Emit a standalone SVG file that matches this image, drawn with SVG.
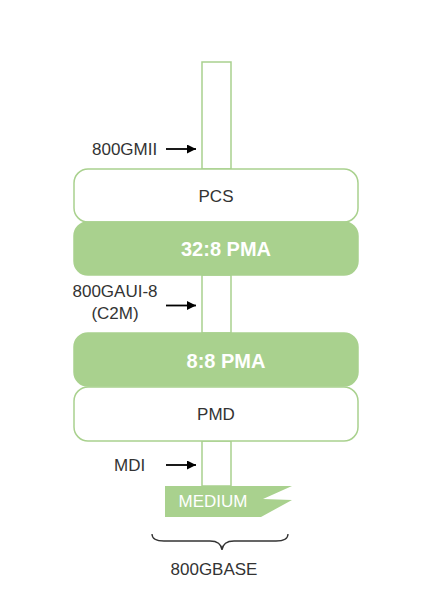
<svg xmlns="http://www.w3.org/2000/svg" width="427" height="614" viewBox="0 0 427 614">
<defs>
<style>
.col{fill:#fff;stroke:#a9d18e;stroke-width:1.5}
.wbox{fill:#fff;stroke:#a9d18e;stroke-width:1.5}
.gbox{fill:#a9d18e;stroke:#a9d18e;stroke-width:1.5}
.lbl{font-family:"Liberation Sans",Arial,sans-serif;font-size:17px;fill:#333}
.blbl{font-family:"Liberation Sans",Arial,sans-serif;font-size:20px;font-weight:bold;fill:#fff}
.arr{stroke:#000;stroke-width:1.8;fill:none}
</style>
<marker id="ah" viewBox="0 0 10 10" refX="10" refY="5" markerWidth="10" markerHeight="9" orient="auto" markerUnits="userSpaceOnUse">
<path d="M0,0 L10,5 L0,10 z" fill="#000"/>
</marker>
</defs>
<g id="connectors">
<rect class="col" x="202" y="62" width="29" height="107"/>
<rect class="col" x="202" y="275" width="29" height="58"/>
<rect class="col" x="202" y="441" width="29" height="45"/>
<line class="arr" x1="166" y1="149" x2="196" y2="149" marker-end="url(#ah)"/>
<line class="arr" x1="166" y1="305.5" x2="196" y2="305.5" marker-end="url(#ah)"/>
<line class="arr" x1="166" y1="465" x2="196" y2="465" marker-end="url(#ah)"/>
</g>
<g id="pcs">
<rect class="wbox" x="74" y="169" width="284" height="53" rx="14"/>
<text class="lbl" x="216" y="202" text-anchor="middle">PCS</text>
</g>
<g id="pma32">
<rect class="gbox" x="74" y="222" width="284" height="53" rx="14"/>
<text class="blbl" x="226" y="256" text-anchor="middle">32:8 PMA</text>
</g>
<g id="pma8">
<rect class="gbox" x="74" y="333" width="284" height="53" rx="14"/>
<text class="blbl" x="226" y="368" text-anchor="middle">8:8 PMA</text>
</g>
<g id="pmd">
<rect class="wbox" x="74" y="387" width="284" height="54" rx="14"/>
<text class="lbl" x="216" y="420" text-anchor="middle">PMD</text>
</g>
<g id="gmii">
<text class="lbl" x="92" y="155">800GMII</text>
</g>
<g id="gaui">
<text class="lbl" x="115" y="297" text-anchor="middle">800GAUI-8</text>
<text class="lbl" x="115" y="319" text-anchor="middle">(C2M)</text>
</g>
<g id="mdi">
<text class="lbl" x="114" y="471">MDI</text>
</g>
<g id="medium">
<polygon points="165,486 292,486 263,499 292,500 261,517 165,517" fill="#a9d18e"/>
<text x="213" y="507" text-anchor="middle" style="font-family:'Liberation Sans',Arial,sans-serif;font-size:17px;fill:#fff">MEDIUM</text>
</g>
<g id="base">
<path d="M152,534 Q152,541 164,541 L210,541 Q221,541 222,550 Q223,541 234,541 L276,541 Q288,541 288,534" fill="none" stroke="#333" stroke-width="1.3"/>
<text class="lbl" x="214" y="575" text-anchor="middle">800GBASE</text>
</g>
</svg>
